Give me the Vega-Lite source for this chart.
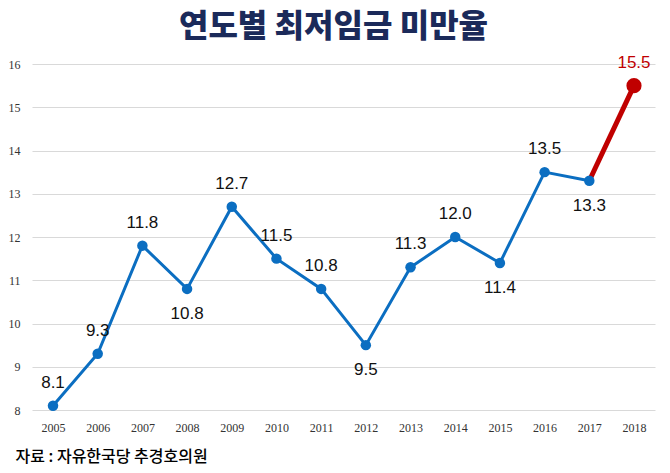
{
  "$schema": "https://vega.github.io/schema/vega-lite/v6.json",
  "width": 623,
  "height": 346,
  "autosize": "none",
  "padding": {"left": 32, "top": 64, "right": 15, "bottom": 63},
  "background": "white",
  "config": {"view": {"stroke": null}},
  "title": {
    "text": "연도별 최저임금 미만율",
    "font": "Noto Sans CJK KR",
    "fontSize": 32,
    "fontWeight": 900,
    "color": "#1b2a5a",
    "anchor": "middle",
    "dx": -10,
    "offset": 10
  },
  "data": {
    "values": [
      {"year": 2005, "rate": 8.1, "pos": "above"},
      {"year": 2006, "rate": 9.3, "pos": "above"},
      {"year": 2007, "rate": 11.8, "pos": "above"},
      {"year": 2008, "rate": 10.8, "pos": "below"},
      {"year": 2009, "rate": 12.7, "pos": "above"},
      {"year": 2010, "rate": 11.5, "pos": "above"},
      {"year": 2011, "rate": 10.8, "pos": "above"},
      {"year": 2012, "rate": 9.5, "pos": "below"},
      {"year": 2013, "rate": 11.3, "pos": "above"},
      {"year": 2014, "rate": 12.0, "pos": "above"},
      {"year": 2015, "rate": 11.4, "pos": "below"},
      {"year": 2016, "rate": 13.5, "pos": "above"},
      {"year": 2017, "rate": 13.3, "pos": "below"},
      {"year": 2018, "rate": 15.5, "pos": "above"}
    ]
  },
  "encoding": {
    "x": {
      "field": "year",
      "type": "ordinal",
      "scale": {"type": "point", "padding": 0.47},
      "axis": {
        "labelAngle": 0,
        "labelFont": "Liberation Sans Narrow",
        "labelFontSize": 12,
        "labelColor": "#333333",
        "labelPadding": 12,
        "ticks": false,
        "domain": false,
        "grid": false,
        "title": "자료 : 자유한국당 추경호의원",
        "titleFont": "Noto Sans CJK KR",
        "titleFontSize": 16,
        "titleFontWeight": 500,
        "titleColor": "#000000",
        "titleAnchor": "start",
        "titleAlign": "left",
        "titleBaseline": "alphabetic",
        "titleX": -17,
        "titleY": 51
      }
    },
    "y": {
      "field": "rate",
      "type": "quantitative",
      "scale": {"domain": [8, 16], "nice": false, "zero": false},
      "axis": {
        "values": [8, 9, 10, 11, 12, 13, 14, 15, 16],
        "grid": true,
        "gridColor": "#d9d9d9",
        "domain": false,
        "ticks": false,
        "labelPadding": 12,
        "labelFont": "Liberation Sans Narrow",
        "labelFontSize": 12,
        "labelColor": "#333333",
        "title": null
      }
    }
  },
  "layer": [
    {
      "transform": [{"filter": "datum.year <= 2017"}],
      "mark": {"type": "line", "color": "#0B6EC1", "strokeWidth": 3}
    },
    {
      "transform": [{"filter": "datum.year >= 2017"}],
      "mark": {"type": "line", "color": "#C00000", "strokeWidth": 5}
    },
    {
      "transform": [{"filter": "datum.year <= 2017"}],
      "mark": {"type": "point", "filled": true, "opacity": 1, "color": "#0B6EC1", "size": 110}
    },
    {
      "transform": [{"filter": "datum.year == 2018"}],
      "mark": {"type": "point", "filled": true, "opacity": 1, "color": "#C00000", "size": 230}
    },
    {
      "transform": [{"filter": "datum.pos == 'above'"}],
      "mark": {"type": "text", "font": "Liberation Sans", "fontSize": 17, "dy": -23, "baseline": "middle"},
      "encoding": {
        "text": {"field": "rate", "type": "quantitative", "format": ".1f"},
        "color": {"condition": {"test": "datum.year == 2018", "value": "#C00000"}, "value": "#111111"}
      }
    },
    {
      "transform": [{"filter": "datum.pos == 'below'"}],
      "mark": {"type": "text", "font": "Liberation Sans", "fontSize": 17, "dy": 25, "baseline": "middle", "color": "#111111"},
      "encoding": {
        "text": {"field": "rate", "type": "quantitative", "format": ".1f"}
      }
    }
  ]
}
